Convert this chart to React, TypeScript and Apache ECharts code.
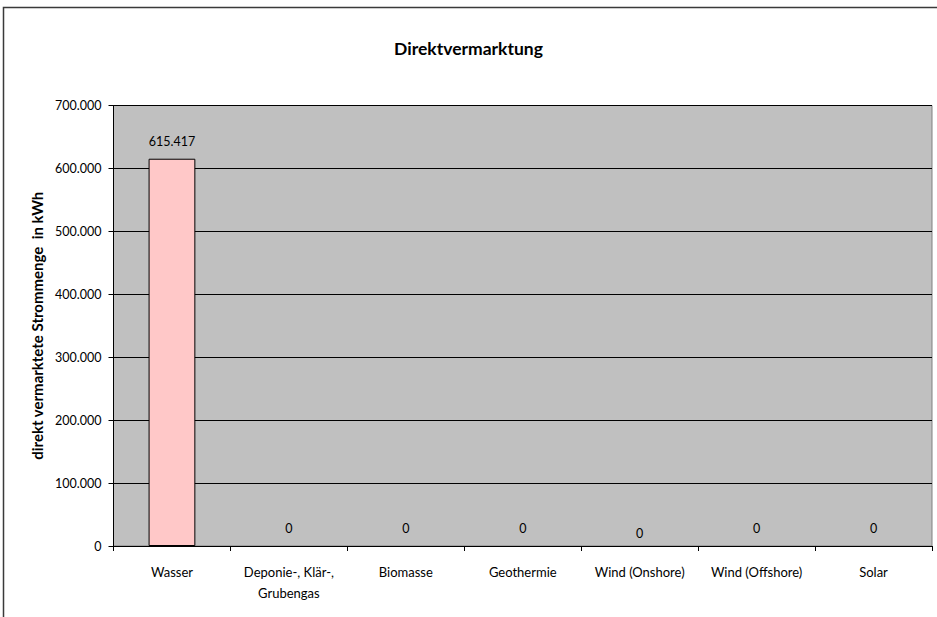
import React, { useEffect, useRef } from "react";
import * as echarts from "echarts";

const categories = [
  "Wasser",
  "Deponie-, Klär-,\nGrubengas",
  "Biomasse",
  "Geothermie",
  "Wind (Onshore)",
  "Wind (Offshore)",
  "Solar",
];
const values = [615417, 0, 0, 0, 0, 0, 0];
const titleText = "Direktvermarktung";
const yAxisName = "direkt vermarktete Strommenge  in kWh";
const yMin = 0;
const yMax = 700000;
const yInterval = 100000;

const FONT = "Lato, 'Liberation Sans', sans-serif";

function fmt(v: number): string {
  return String(Math.round(v)).replace(/\B(?=(\d{3})+(?!\d))/g, ".");
}

export default function App() {
  const ref = useRef<HTMLDivElement>(null);
  useEffect(() => {
    if (!ref.current) return;
    const chart = echarts.init(ref.current, null, { renderer: "svg" });
    chart.setOption({
      animation: false,
      backgroundColor: "#ffffff",
      textStyle: { fontFamily: FONT },
      title: {
        text: titleText,
        left: "center",
        top: 34,
        textStyle: { fontFamily: FONT, fontSize: 17.5, fontWeight: "bold", color: "#000" },
      },
      graphic: [
        {
          type: "rect",
          shape: { x: 3.5, y: 7.5, width: 940, height: 620 },
          style: { fill: "none", stroke: "#3a3a3a", lineWidth: 1.5 },
          silent: true,
        },
      ],
      grid: {
        left: 113.5,
        right: 5,
        top: 105.5,
        bottom: 71,
        show: true,
        backgroundColor: "#C0C0C0",
        borderColor: "#808080",
        borderWidth: 1,
      },
      xAxis: {
        type: "category",
        data: categories,
        axisLine: { show: true, lineStyle: { color: "#000", width: 1 } },
        axisTick: { show: true, alignWithLabel: false, length: 5, lineStyle: { color: "#000" } },
        axisLabel: {
          interval: 0,
          margin: 15,
          color: "#000",
          fontFamily: FONT,
          fontSize: 13,
          lineHeight: 21,
        },
        splitLine: { show: false },
      },
      yAxis: {
        type: "value",
        min: yMin,
        max: yMax,
        interval: yInterval,
        name: yAxisName,
        nameLocation: "middle",
        nameGap: 68,
        nameTextStyle: { fontFamily: FONT, fontSize: 15, fontWeight: "bold", color: "#000" },
        axisLine: { show: true, lineStyle: { color: "#000", width: 1 } },
        axisTick: { show: true, length: 5, lineStyle: { color: "#000" } },
        axisLabel: {
          margin: 12,
          color: "#000",
          fontFamily: FONT,
          fontSize: 12.5,
          formatter: (v: number) => fmt(v),
        },
        splitLine: { show: true, lineStyle: { color: "#000", width: 1 } },
      },
      series: [
        {
          type: "bar",
          data: values.map((v, i) => {
            const item: any = { value: v };
            if (v === 0) item.itemStyle = { borderWidth: 0 };
            if (i === 4) item.label = { offset: [0, 5] };
            return item;
          }),
          barWidth: "40%",
          itemStyle: { color: "#FFC8C8", borderColor: "#000", borderWidth: 1 },
          label: {
            show: true,
            position: "top",
            distance: 11,
            color: "#000",
            fontFamily: FONT,
            fontSize: 12.5,
            formatter: (p: any) => fmt(p.value),
          },
        },
      ],
    });
    return () => chart.dispose();
  }, []);
  return (
    <div
      ref={ref}
      style={{ position: "fixed", left: 0, top: 0, width: 937, height: 617 }}
    />
  );
}
